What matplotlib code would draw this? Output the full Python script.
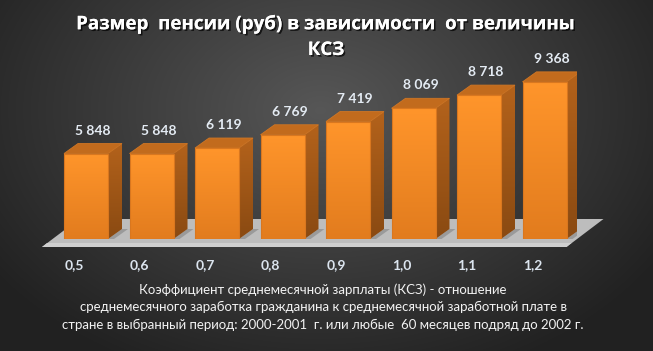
import numpy as np
import matplotlib
matplotlib.use('Agg')
import matplotlib.pyplot as plt
from matplotlib.patches import Polygon, Rectangle
import matplotlib.patheffects as pe

# data
ksz = ['0,5', '0,6', '0,7', '0,8', '0,9', '1,0', '1,1', '1,2']
pension = [5848, 5848, 6119, 6769, 7419, 8069, 8718, 9368]
title_lines = ['Размер  пенсии (руб) в зависимости  от величины', 'КСЗ']
caption_lines = ['Коэффициент среднемесячной зарплаты (КСЗ) - отношение',
                 'среднемесячного заработка гражданина к среднемесячной заработной плате в',
                 'стране в выбранный период: 2000-2001  г. или любые  60 месяцев подряд до 2002 г.']

W, H = 653, 351
fig = plt.figure(figsize=(W / 100, H / 100), dpi=100)

# background radial gradient
bg = fig.add_axes([0, 0, 1, 1])
yy, xx = np.mgrid[0:H, 0:W]
r = np.sqrt(((xx - 320) / 420.0) ** 2 + ((yy - 110) / 300.0) ** 2)
g = np.clip(0.34 - 0.22 * r, 0.13, 0.34)
bg.imshow(np.dstack([g, g, g]), extent=[0, W, H, 0], aspect='auto')
bg.set_xlim(0, W)
bg.set_ylim(H, 0)
bg.axis('off')

ax = fig.add_axes([53.25 / W, 112 / H, 524 / W, 170 / H])
ax.set_xlim(-0.5, 7.5)
ax.set_ylim(1650, 10000)
ax.axis('off')
ax.patch.set_alpha(0)

# pixel -> data conversions
ux = 524 / 8.0
uy = 170 / (10000 - 1650.0)
ybase = 1650
dx, dy = 14 / ux, 10 / uy
w = 44 / ux

# floor
fx0 = -0.5 - (53.25 - 42) / ux
fx1 = 7 + w / 2
floor = Polygon([(fx0, ybase - 8 / uy), (fx1, ybase - 8 / uy),
                 (fx1 + 37 / ux, ybase + 20 / uy), (fx0 + 37 / ux, ybase + 20 / uy)],
                closed=True, facecolor='#bdbdbd', edgecolor='none', zorder=1, clip_on=False)
ax.add_patch(floor)
ax.add_patch(Polygon([(fx0, ybase - 8 / uy), (fx1, ybase - 8 / uy),
                      (fx1 + 5 / ux, ybase - 4 / uy), (fx0 + 5 / ux, ybase - 4 / uy)],
                     closed=True, facecolor='#cfcfcf', edgecolor='none', zorder=1, clip_on=False))

grad = np.linspace(0, 1, 64).reshape(-1, 1)
front_cmap = matplotlib.colors.LinearSegmentedColormap.from_list('f', ['#e27c1e', '#ff952b'])
side_cmap = matplotlib.colors.LinearSegmentedColormap.from_list('s', ['#8a4a12', '#b3621b'])

for i, v in enumerate(pension):
    x0, x1 = i - w / 2, i + w / 2
    # shadow on floor
    ax.add_patch(Polygon([(x1, ybase), (x1 + dx, ybase + dy), (x1 + dx + 6 / ux, ybase + dy),
                          (x1 + 6 / ux, ybase)], closed=True, facecolor='#9a9a9a',
                         edgecolor='none', zorder=2))
    side = Polygon([(x1, ybase), (x1 + dx, ybase + dy), (x1 + dx, v + dy), (x1, v)],
                   closed=True, facecolor='none', edgecolor='none', zorder=3)
    ax.add_patch(side)
    im = ax.imshow(grad, cmap=side_cmap, extent=[x1, x1 + dx, ybase, v + dy],
                   origin='lower', aspect='auto', zorder=3)
    im.set_clip_path(side)
    top = Polygon([(x0, v), (x0 + dx, v + dy), (x1 + dx, v + dy), (x1, v)],
                  closed=True, facecolor='#c26b1d', edgecolor='#d07624', lw=0.6, zorder=4)
    ax.add_patch(top)
    bar = ax.bar(i, v - ybase, bottom=ybase, width=w, color='none', zorder=5)[0]
    im = ax.imshow(grad, cmap=front_cmap, extent=[x0, x1, ybase, v],
                   origin='lower', aspect='auto', zorder=5)
    im.set_clip_path(bar)
    ax.add_patch(Rectangle((x0, ybase), w, v - ybase, facecolor='none',
                           edgecolor='#d9771f', lw=0.8, zorder=6))
    ax.text(i + dx / 2, v + 23 / uy, f'{v:,}'.replace(',', ' '), ha='center', va='center',
            fontsize=10, fontweight='bold', color='#e4ebf3', family=['Lato', 'DejaVu Sans'],
            zorder=7)
    ax.text(i - 12 / ux, ybase - 26 / uy, ksz[i], ha='center', va='center',
            fontsize=10, fontweight='bold', color='#dce5ef', family=['Lato', 'DejaVu Sans'])

ax.set_xlim(-0.5, 7.5)
ax.set_ylim(1650, 10000)

shadow = [pe.withSimplePatchShadow(offset=(1.2, -1.2), shadow_rgbFace='black', alpha=0.7), pe.Normal()]
for line, yc in zip(title_lines, [24, 50]):
    fig.text(326 / W, 1 - yc / H, line, ha='center', va='center', fontsize=13.5,
             fontweight='bold', color='white', family=['Open Sans', 'DejaVu Sans'],
             path_effects=shadow)

for line, yc in zip(caption_lines, [290, 307, 325]):
    fig.text(323 / W, 1 - yc / H, line, ha='center', va='center', fontsize=9.5,
             color='#f2f2f2', family=['Lato', 'DejaVu Sans'])

fig.savefig('out.png', dpi=100)
